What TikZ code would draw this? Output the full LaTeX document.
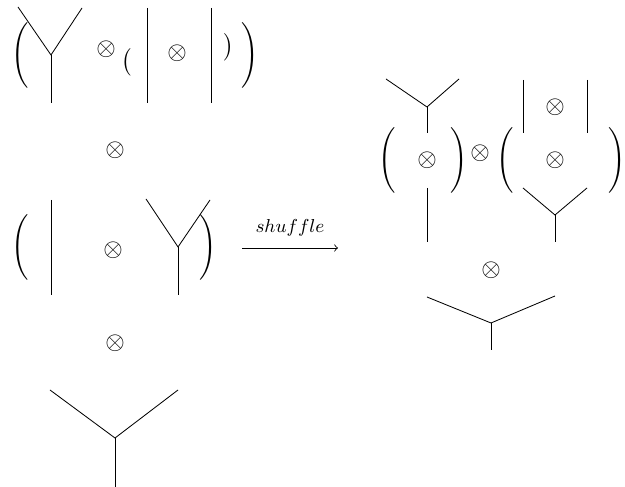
\documentclass[tikz,border=0pt]{standalone}
\usepackage{amsmath}
\begin{document}
\begin{tikzpicture}[x=0.48pt,y=-0.48pt,
  wire/.style={line width=0.4pt, black},
  sym/.style={inner sep=0pt, outer sep=0pt, scale=1.2},
  bigp/.style={inner sep=0pt, outer sep=0pt, scale=1.05},
  smallp/.style={inner sep=0pt, outer sep=0pt, scale=1.1},
  lbl/.style={inner sep=0pt, outer sep=0pt, font=\fontsize{9.4}{11}\selectfont},
  arr/.style={->, line width=0.4pt}]
\useasboundingbox (0,0) rectangle (625,487);

% ---------- top row ----------
\node[bigp] (pl1) at (20,55) {$\Bigg($};
\coordinate (a1l) at (18,7); \coordinate (a1r) at (82,8);
\coordinate (a1j) at (51,55); \coordinate (a1b) at (51,103);
\draw[wire] (a1l) -- (a1j) -- (a1r); \draw[wire] (a1j) -- (a1b);
\node[sym] (t1) at (106,49) {$\otimes$};
\node[smallp] (sp1) at (127,62) {$\big($};
\coordinate (v1t) at (147,8); \coordinate (v1b) at (147,103);
\draw[wire] (v1t) -- (v1b);
\node[sym] (t2) at (177,53) {$\otimes$};
\coordinate (v2t) at (211,8); \coordinate (v2b) at (211,103);
\draw[wire] (v2t) -- (v2b);
\node[smallp] (sp2) at (229,47) {$\big)$};
\node[bigp] (pr1) at (250,55) {$\Bigg)$};

\node[sym] (t3) at (115,150) {$\otimes$};

% ---------- second row ----------
\node[bigp] (pl2) at (20,247) {$\Bigg($};
\coordinate (v3t) at (51,200); \coordinate (v3b) at (51,295);
\draw[wire] (v3t) -- (v3b);
\node[sym] (t4) at (113,250) {$\otimes$};
\coordinate (a2l) at (146,199); \coordinate (a2r) at (210,200);
\coordinate (a2j) at (178,247); \coordinate (a2b) at (178,295);
\draw[wire] (a2l) -- (a2j) -- (a2r); \draw[wire] (a2j) -- (a2b);
\node[bigp] (pr2) at (208,247) {$\Bigg)$};

\coordinate (arrs) at (242,248); \coordinate (arre) at (338,248);
\draw[arr] (arrs) -- (arre);
\node[lbl] (lab) at (290,228) {$shuffle$};

\node[sym] (t5) at (115,343) {$\otimes$};
\coordinate (a3l) at (50,390); \coordinate (a3r) at (178,390);
\coordinate (a3j) at (115,438); \coordinate (a3b) at (115,487);
\draw[wire] (a3l) -- (a3j) -- (a3r); \draw[wire] (a3j) -- (a3b);

% ---------- right side ----------
\coordinate (b1l) at (386,79); \coordinate (b1r) at (459,79);
\coordinate (b1j) at (427,107); \coordinate (b1b) at (427,133);
\draw[wire] (b1l) -- (b1j) -- (b1r); \draw[wire] (b1j) -- (b1b);
\node[bigp] (pl3) at (387,160) {$\Bigg($};
\node[sym] (t6) at (427,160) {$\otimes$};
\node[bigp] (pr3) at (459,160) {$\Bigg)$};
\coordinate (v4t) at (427,188); \coordinate (v4b) at (427,242);
\draw[wire] (v4t) -- (v4b);
\node[sym] (t7) at (480,153) {$\otimes$};
\node[bigp] (pl4) at (505,160) {$\Bigg($};
\coordinate (v5t) at (523,80); \coordinate (v5b) at (523,133);
\coordinate (v6t) at (587,80); \coordinate (v6b) at (587,133);
\draw[wire] (v5t) -- (v5b); \draw[wire] (v6t) -- (v6b);
\node[sym] (t8) at (555,107) {$\otimes$};
\node[sym] (t9) at (555,160) {$\otimes$};
\coordinate (b2l) at (523,188); \coordinate (b2r) at (587,188);
\coordinate (b2j) at (555,215); \coordinate (b2b) at (555,242);
\draw[wire] (b2l) -- (b2j) -- (b2r); \draw[wire] (b2j) -- (b2b);
\node[bigp] (pr4) at (617,160) {$\Bigg)$};

\node[sym] (t10) at (491,270) {$\otimes$};
\coordinate (b3l) at (427,297); \coordinate (b3r) at (555,296);
\coordinate (b3j) at (491,323); \coordinate (b3b) at (491,350);
\draw[wire] (b3l) -- (b3j) -- (b3r); \draw[wire] (b3j) -- (b3b);
\end{tikzpicture}
\end{document}
